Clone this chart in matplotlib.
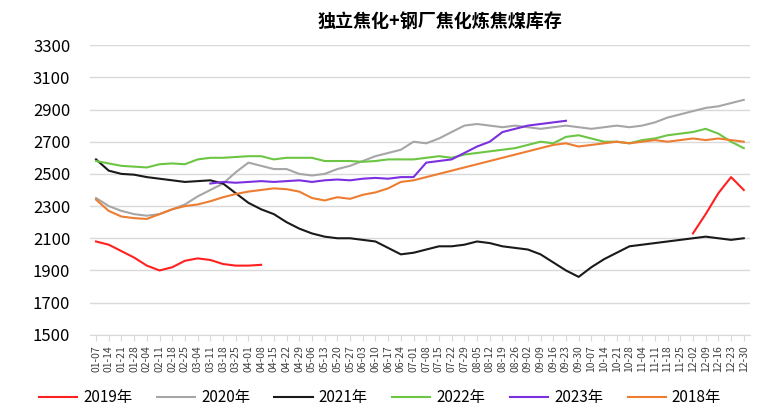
import numpy as np
import matplotlib
matplotlib.use("Agg")
import matplotlib.pyplot as plt
import pandas as pd

plt.rcParams['font.family'] = ['Noto Sans CJK SC', 'DejaVu Sans']

nan = np.nan

# weekly labels (mm-dd)
weeks = [d.strftime("%m-%d") for d in pd.date_range("2021-01-07", periods=52, freq="7D")]

y2018 = [2340, 2270, 2235, 2225, 2220, 2250, 2280, 2300, 2310, 2330, 2355, 2375, 2390,
         2400, 2410, 2405, 2390, 2350, 2335, 2355, 2345, 2370, 2385, 2410, 2450, 2460,
         2480, 2500, 2520, 2540, 2560, 2580, 2600, 2620, 2640, 2660, 2680, 2690, 2670,
         2680, 2690, 2700, 2690, 2700, 2710, 2700, 2710, 2720, 2710, 2720, 2710, 2700]
y2019 = [2080, 2060, 2020, 1980, 1930, 1900, 1920, 1960, 1975, 1965, 1940, 1930, 1930,
         1935, nan, nan, nan, nan, nan, nan, nan, nan, nan, nan, nan, nan,
         nan, nan, nan, nan, nan, nan, nan, nan, nan, nan, nan, nan, nan,
         nan, nan, nan, nan, nan, nan, nan, nan, 2130, 2250, 2380, 2480, 2400]
y2020 = [2350, 2300, 2270, 2250, 2240, 2250, 2280, 2310, 2360, 2400, 2440, 2510, 2570,
         2550, 2530, 2530, 2500, 2490, 2500, 2530, 2550, 2580, 2610, 2630, 2650, 2700,
         2690, 2720, 2760, 2800, 2810, 2800, 2790, 2800, 2790, 2780, 2790, 2800, 2790,
         2780, 2790, 2800, 2790, 2800, 2820, 2850, 2870, 2890, 2910, 2920, 2940, 2960]
y2021 = [2590, 2520, 2500, 2495, 2480, 2470, 2460, 2450, 2455, 2460, 2440, 2380, 2320,
         2280, 2250, 2200, 2160, 2130, 2110, 2100, 2100, 2090, 2080, 2040, 2000, 2010,
         2030, 2050, 2050, 2060, 2080, 2070, 2050, 2040, 2030, 2000, 1950, 1900, 1860,
         1920, 1970, 2010, 2050, 2060, 2070, 2080, 2090, 2100, 2110, 2100, 2090, 2100]
y2022 = [2580, 2565, 2550, 2545, 2540, 2560, 2565, 2560, 2590, 2600, 2600, 2605, 2610,
         2610, 2590, 2600, 2600, 2600, 2580, 2580, 2580, 2575, 2580, 2590, 2590, 2590,
         2600, 2610, 2600, 2620, 2630, 2640, 2650, 2660, 2680, 2700, 2690, 2730, 2740,
         2720, 2700, 2700, 2690, 2710, 2720, 2740, 2750, 2760, 2780, 2750, 2700, 2660]
y2023 = [nan, nan, nan, nan, nan, nan, nan, nan, nan, 2440, 2450, 2445, 2450,
         2455, 2450, 2455, 2460, 2450, 2460, 2465, 2460, 2470, 2475, 2470, 2480, 2480,
         2570, 2580, 2590, 2630, 2670, 2700, 2760, 2780, 2800, 2810, 2820, 2830, nan,
         nan, nan, nan, nan, nan, nan, nan, nan, nan, nan, nan, nan, nan]

series = [("2019年", y2019, "#ff2020"),
          ("2020年", y2020, "#a6a6a6"),
          ("2021年", y2021, "#1a1a1a"),
          ("2022年", y2022, "#6cc644"),
          ("2023年", y2023, "#7b2fe0"),
          ("2018年", y2018, "#ed7d31")]

fig = plt.figure(figsize=(7.6, 4.18), dpi=100)
ax = fig.add_axes([0.118, 0.199, 0.869, 0.693])

x = np.arange(len(weeks))
for name, vals, c in series:
    ax.plot(x, vals, color=c, lw=1.5, label=name)

ax.set_ylim(1500, 3300)
ax.set_yticks(range(1500, 3301, 200))
ax.set_xlim(-0.5, len(weeks) - 0.5)
ax.set_xticks(x)
ax.set_xticklabels(weeks, rotation=90, fontsize=7.5, color="#404040")
ax.tick_params(axis="y", length=0, labelsize=12, pad=14)
ax.tick_params(axis="x", length=4, color="#d9d9d9")
ax.grid(axis="y", color="#d9d9d9", lw=1)
ax.set_axisbelow(True)
for s in ["top", "right", "left"]:
    ax.spines[s].set_visible(False)
ax.spines["bottom"].set_color("#d9d9d9")

fig.text(0.579, 0.947, "独立焦化+钢厂焦化炼焦煤库存", ha="center", va="center",
         fontsize=13, fontweight="bold")

fig.legend(loc="lower center", bbox_to_anchor=(0.5, -0.005), ncol=6, frameon=False,
           fontsize=11, handlelength=2.5, columnspacing=1.6, handletextpad=0.4)

fig.savefig("out.png", dpi=100)
